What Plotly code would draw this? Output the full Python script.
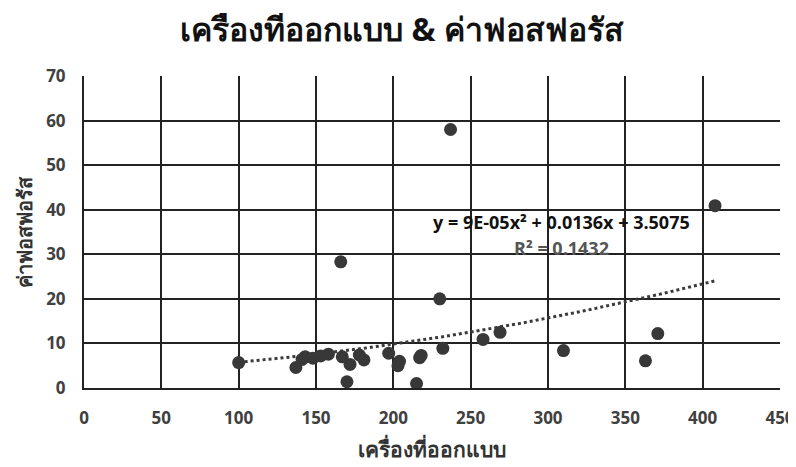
import plotly.graph_objects as go
import numpy as np

# Data
x_vals = [100, 137, 141, 143, 148, 153, 158, 166, 167, 170, 172, 178, 181, 197,
          203, 204, 215, 217, 218, 230, 232, 237, 258, 269, 310, 363, 371, 408]
y_vals = [5.7, 4.6, 6.4, 7.0, 6.7, 7.2, 7.6, 28.3, 7.0, 1.4, 5.3, 7.4, 6.3, 7.8,
          5.0, 6.0, 1.0, 6.8, 7.3, 20.0, 8.9, 58.0, 10.9, 12.5, 8.4, 6.1, 12.2, 40.9]

# Polynomial trendline coefficients as shown on the chart (a*x^2 + b*x + c)
trend_coeffs = [9e-05, 0.0136, 3.5075]
r_squared = 0.1432

x_ticks = [0, 50, 100, 150, 200, 250, 300, 350, 400, 450]
y_ticks = [0, 10, 20, 30, 40, 50, 60, 70]

title_text = "เครืองทีออกแบบ & ค่าฟอสฟอรัส"
x_title = "เครื่องที่ออกแบบ"
y_title = "ค่าฟอสฟอรัส"

tx = np.linspace(min(x_vals), max(x_vals), 120)
ty = np.polyval(trend_coeffs, tx)

fig = go.Figure()
fig.add_trace(go.Scatter(
    x=tx, y=ty, mode="lines",
    line=dict(color="#3a3a3a", width=3, dash="dot"),
    hoverinfo="skip", showlegend=False))
fig.add_trace(go.Scatter(
    x=x_vals, y=y_vals, mode="markers",
    marker=dict(size=13, color="#383838", line=dict(width=0)),
    showlegend=False))

eq = "y = 9E-05x² + 0.0136x + 3.5075"
fig.add_annotation(x=309, y=37.2, text=eq, showarrow=False,
                   font=dict(family="Open Sans", size=18, color="#111111", weight="bold"),
                   xanchor="center", yanchor="middle")
fig.add_annotation(x=309, y=31.4, text="R² = %.4f" % r_squared, showarrow=False,
                   font=dict(family="Open Sans", size=18, color="#555555", weight="bold"),
                   xanchor="center", yanchor="middle")

# axis titles as annotations for precise placement
fig.add_annotation(x=0.5, y=0, xref="paper", yref="paper", text=x_title,
                   showarrow=False, xanchor="center", yanchor="middle", yshift=-60,
                   font=dict(size=21, color="#333333", weight="bold"))
fig.add_annotation(x=0, y=0.5, xref="paper", yref="paper", text=y_title,
                   showarrow=False, xanchor="center", yanchor="middle", xshift=-60,
                   textangle=-90, font=dict(size=20, color="#333333", weight="bold"))

tick_font = dict(family="Open Sans", size=17, color="#404040", weight="bold")

fig.update_layout(
    width=796, height=467,
    margin=dict(l=76, r=24, t=68, b=87),
    paper_bgcolor="white", plot_bgcolor="white",
    title=dict(text=title_text, x=0.495, xanchor="center",
               y=0.953, yanchor="middle",
               font=dict(size=32, color="#111111", weight="bold")),
    xaxis=dict(range=[0, 450], tickvals=x_ticks, showgrid=True,
               gridcolor="#222222", gridwidth=1.5, zeroline=False,
               showline=True, linecolor="#222222", linewidth=2,
               ticks="", ticklabelstandoff=14, tickfont=tick_font, automargin=False),
    yaxis=dict(range=[0, 70], tickvals=y_ticks, showgrid=True,
               gridcolor="#222222", gridwidth=1.5, zeroline=False,
               showline=True, linecolor="#222222", linewidth=2,
               ticks="", ticklabelstandoff=13, tickfont=tick_font, automargin=False),
)

fig.write_html("out.html")
